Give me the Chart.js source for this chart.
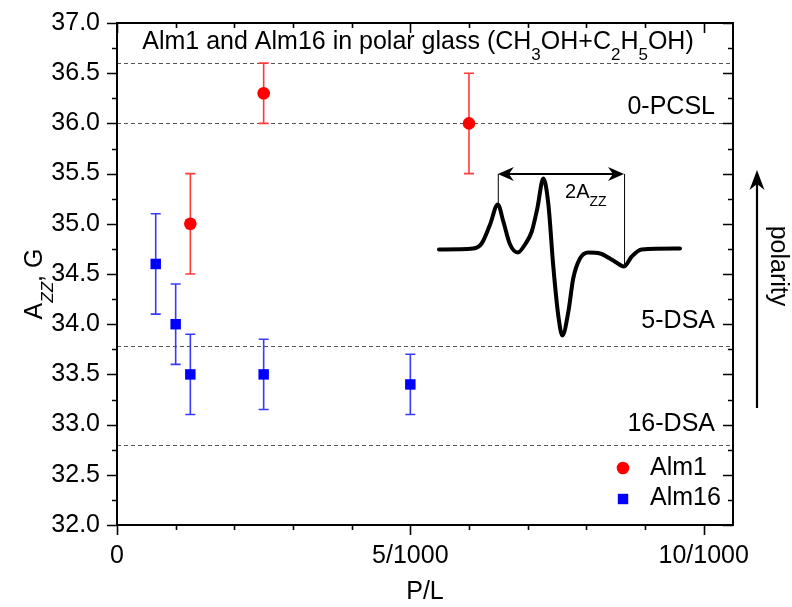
<!DOCTYPE html>
<html>
<head>
<meta charset="utf-8">
<script src="https://cdn.jsdelivr.net/npm/chart.js@4/dist/chart.umd.min.js"></script>
<style>
  html, body { margin: 0; padding: 0; background: #fff; }
  #wrap { width: 792px; height: 607px; }
</style>
</head>
<body>
<div id="wrap"><canvas id="azzChart" width="792" height="607"></canvas></div>
<script>
// Alm1: P/L (x1000), Azz (G), error (G)
const alm1PL = [1.25, 2.5, 6.0];
const alm1Azz = [35.0, 36.3, 36.0];
const alm1Err = [0.5, 0.3, 0.5];

// Alm16
const alm16PL = [0.66, 1.0, 1.25, 2.5, 5.0];
const alm16Azz = [34.6, 34.0, 33.5, 33.5, 33.4];
const alm16Err = [0.5, 0.4, 0.4, 0.35, 0.3];

// reference Azz levels (dashed)
const refLevels = [36.6, 36.0, 33.78, 32.8];
const refNames = ['', '0-PCSL', '5-DSA', '16-DSA'];

const xTickValues = [0, 5, 10];
const xTickLabels = ['0', '5/1000', '10/1000'];
const yTickValues = [32.0, 32.5, 33.0, 33.5, 34.0, 34.5, 35.0, 35.5, 36.0, 36.5, 37.0];

// inset spectrum: field (arb. G) and first-derivative signal
const specField = [0, 14.2, 17.7, 21.2, 24.4, 26.7, 29.5, 32.7, 35.7, 38.5, 40.8, 43.3, 45.4, 47.4, 49.5, 51.2, 53.7, 55.7, 58.5, 62.0, 66.8, 72.3, 76.8, 80.0, 84.1, 100];
const specSignal = [0, 0.01, 0.06, 0.25, 0.45, 0.28, 0.05, -0.03, 0.05, 0.18, 0.41, 0.71, 0.45, -0.16, -0.66, -0.86, -0.62, -0.29, -0.09, -0.03, -0.04, -0.11, -0.17, -0.07, 0, 0.01];
// outer extrema that define 2Azz
const azzMarks = [24.4, 76.8];

const FONT = 'Liberation Sans, Arial, sans-serif';
Chart.defaults.font.family = FONT;
Chart.defaults.color = '#000';

function toPoints(xs, ys) {
    return xs.map((v, i) => ({ x: v, y: ys[i] }));
}

// draws text made of pieces, some of them subscripts
function drawRich(ctx, parts, x, y, size, align) {
    const subSize = Math.round(size * 0.68);
    const fontFor = p => (p.italic ? 'italic ' : '') + (p.sub ? subSize : size) + 'px ' + FONT;
    let total = 0;
    parts.forEach(p => { ctx.font = fontFor(p); total += ctx.measureText(p.t).width; });
    let cx = align === 'center' ? x - total / 2 : x;
    ctx.textAlign = 'left';
    ctx.textBaseline = 'alphabetic';
    parts.forEach(p => {
        ctx.font = fontFor(p);
        ctx.fillText(p.t, cx, y + (p.sub ? size * 0.42 : 0));
        cx += ctx.measureText(p.t).width;
    });
}

function arrowHead(ctx, tx, ty, dx, dy, len, half) {
    // dx, dy: unit direction the arrow points to
    const bx = tx - dx * len, by = ty - dy * len;
    const nx = -dy, ny = dx;
    ctx.beginPath();
    ctx.moveTo(tx, ty);
    ctx.lineTo(bx + nx * half, by + ny * half);
    ctx.lineTo(tx - dx * len * 0.7, ty - dy * len * 0.7);
    ctx.lineTo(bx - nx * half, by - ny * half);
    ctx.closePath();
    ctx.fill();
}

// dashed reference levels and their names
const refLinesPlugin = {
    id: 'refLines',
    beforeDatasetsDraw(chart) {
        const { ctx, chartArea: a, scales: { y } } = chart;
        const lift = [0, 16, 25, 21];
        ctx.save();
        refLevels.forEach((lv, i) => {
            const py = Math.round(y.getPixelForValue(lv)) + 0.5;
            ctx.strokeStyle = '#555';
            ctx.lineWidth = 1;
            ctx.setLineDash([4, 3]);
            ctx.beginPath();
            ctx.moveTo(a.left, py);
            ctx.lineTo(a.right, py);
            ctx.stroke();
            if (refNames[i]) {
                ctx.fillStyle = '#000';
                ctx.font = '25px ' + FONT;
                ctx.textAlign = 'right';
                ctx.textBaseline = 'middle';
                ctx.fillText(refNames[i], a.right - 18, py - lift[i]);
            }
        });
        ctx.restore();
    }
};

// vertical error bars with caps
const errorBarsPlugin = {
    id: 'errorBars',
    beforeDatasetsDraw(chart) {
        const { ctx, scales: { x, y } } = chart;
        ctx.save();
        chart.data.datasets.forEach(ds => {
            if (!ds.errors) return;
            ctx.strokeStyle = ds.errColor;
            ctx.lineWidth = 1.6;
            ds.data.forEach((p, i) => {
                const px = x.getPixelForValue(p.x);
                const top = y.getPixelForValue(p.y + ds.errors[i]);
                const bot = y.getPixelForValue(p.y - ds.errors[i]);
                ctx.beginPath();
                ctx.moveTo(px, top); ctx.lineTo(px, bot);
                ctx.moveTo(px - 5, top); ctx.lineTo(px + 5, top);
                ctx.moveTo(px - 5, bot); ctx.lineTo(px + 5, bot);
                ctx.stroke();
            });
        });
        ctx.restore();
    }
};

// 2Azz arrow over the inset spectrum
const insetPlugin = {
    id: 'insetMarks',
    afterDatasetsDraw(chart) {
        const { ctx, scales: { xs, ys } } = chart;
        const yArrow = ys.getPixelForValue(0.755);
        const xL = xs.getPixelForValue(azzMarks[0]);
        const xR = xs.getPixelForValue(azzMarks[1]);
        const sL = specSignal[specField.indexOf(azzMarks[0])];
        const sR = specSignal[specField.indexOf(azzMarks[1])];
        ctx.save();
        ctx.strokeStyle = '#000';
        ctx.fillStyle = '#000';
        ctx.lineWidth = 1;
        ctx.beginPath();
        ctx.moveTo(xL + 0.5, yArrow); ctx.lineTo(xL + 0.5, ys.getPixelForValue(sL));
        ctx.moveTo(xR + 0.5, yArrow); ctx.lineTo(xR + 0.5, ys.getPixelForValue(sR));
        ctx.stroke();
        ctx.lineWidth = 2.2;
        ctx.beginPath();
        ctx.moveTo(xL + 8, yArrow); ctx.lineTo(xR - 8, yArrow);
        ctx.stroke();
        arrowHead(ctx, xL, yArrow, -1, 0, 16, 7);
        arrowHead(ctx, xR, yArrow, 1, 0, 16, 7);
        drawRich(ctx, [{ t: '2A' }, { t: 'ZZ', sub: true }],
            xs.getPixelForValue(52.3), ys.getPixelForValue(0.52), 20, 'left');
        ctx.restore();
    }
};

// frame, ticks, titles, legend, polarity arrow
const decorPlugin = {
    id: 'decor',
    afterDraw(chart) {
        const { ctx, chartArea: a, scales: { x, y } } = chart;
        ctx.save();
        ctx.strokeStyle = '#000';
        ctx.lineWidth = 2;
        ctx.strokeRect(a.left, a.top, a.right - a.left, a.bottom - a.top);

        ctx.lineWidth = 1.6;
        ctx.beginPath();
        for (let v = 0; v <= x.max + 1e-9; v += 1) {
            const px = Math.round(x.getPixelForValue(v)) + 0.5;
            const len = xTickValues.includes(v) ? 10 : 5;
            ctx.moveTo(px, a.bottom); ctx.lineTo(px, a.bottom + len);
            ctx.moveTo(px, a.top); ctx.lineTo(px, a.top + len);
        }
        for (let v = y.min; v <= y.max + 1e-9; v += 0.25) {
            const py = Math.round(y.getPixelForValue(v)) + 0.5;
            const len = yTickValues.includes(v) ? 10 : 5;
            ctx.moveTo(a.left - len, py); ctx.lineTo(a.left, py);
            ctx.moveTo(a.right - len, py); ctx.lineTo(a.right, py);
        }
        ctx.stroke();

        ctx.fillStyle = '#000';
        // plot title
        drawRich(ctx, [
            { t: 'Alm1 and Alm16 in polar glass (CH' }, { t: '3', sub: true },
            { t: 'OH+C' }, { t: '2', sub: true }, { t: 'H' }, { t: '5', sub: true }, { t: 'OH)' }
        ], 418, 49, 25, 'center');

        // axis titles
        ctx.font = '25px ' + FONT;
        ctx.textAlign = 'center';
        ctx.textBaseline = 'middle';
        ctx.fillText('P/L', (a.left + a.right) / 2, 592);

        ctx.save();
        ctx.translate(42, 284);
        ctx.rotate(-Math.PI / 2);
        drawRich(ctx, [{ t: 'A' }, { t: 'ZZ', sub: true, italic: true }, { t: ', G' }], 0, 0, 25, 'center');
        ctx.restore();

        // legend
        const ds = chart.data.datasets;
        const rows = [468, 498];
        [0, 1].forEach((k, i) => {
            const d = ds[k];
            ctx.fillStyle = d.backgroundColor;
            if (d.pointStyle === 'rect') {
                ctx.fillRect(623 - 5.2, rows[i] + 1 - 5.2, 10.4, 10.4);
            } else {
                ctx.beginPath();
                ctx.arc(623, rows[i], d.pointRadius, 0, Math.PI * 2);
                ctx.fill();
            }
            ctx.fillStyle = '#000';
            ctx.font = '25px ' + FONT;
            ctx.textAlign = 'left';
            ctx.textBaseline = 'middle';
            ctx.fillText(d.label, 650, rows[i]);
        });

        // polarity arrow
        ctx.strokeStyle = '#000';
        ctx.fillStyle = '#000';
        ctx.lineWidth = 2.2;
        ctx.beginPath();
        ctx.moveTo(757, 408);
        ctx.lineTo(757, 184);
        ctx.stroke();
        arrowHead(ctx, 757, 170, 0, -1, 20, 7.5);
        ctx.save();
        ctx.translate(778, 266);
        ctx.rotate(Math.PI / 2);
        ctx.font = '25px ' + FONT;
        ctx.textAlign = 'center';
        ctx.textBaseline = 'middle';
        ctx.fillText('polarity', 0, 0);
        ctx.restore();

        ctx.restore();
    }
};

new Chart(document.getElementById('azzChart'), {
    type: 'scatter',
    data: {
        datasets: [
            {
                label: 'Alm1',
                data: toPoints(alm1PL, alm1Azz),
                errors: alm1Err,
                errColor: '#ff3a3a',
                pointStyle: 'circle',
                pointRadius: 6.3,
                borderWidth: 0,
                backgroundColor: '#ff0000',
                borderColor: '#ff0000'
            },
            {
                label: 'Alm16',
                data: toPoints(alm16PL, alm16Azz),
                errors: alm16Err,
                errColor: '#3a3aff',
                pointStyle: 'rect',
                pointRadius: 7.4,
                borderWidth: 0,
                backgroundColor: '#0000ff',
                borderColor: '#0000ff'
            },
            {
                label: 'spectrum',
                type: 'line',
                data: toPoints(specField, specSignal),
                xAxisID: 'xs',
                yAxisID: 'ys',
                showLine: true,
                borderColor: '#000',
                borderWidth: 4,
                pointRadius: 0,
                cubicInterpolationMode: 'monotone',
                borderJoinStyle: 'round',
                borderCapStyle: 'round',
                fill: false,
                clip: false
            }
        ]
    },
    options: {
        responsive: false,
        animation: false,
        layout: { padding: { top: 23, right: 59, left: 0, bottom: 0 } },
        plugins: { legend: { display: false }, tooltip: { enabled: false } },
        scales: {
            x: {
                type: 'linear',
                min: 0,
                max: 10.5,
                grid: { display: false, drawTicks: true, tickLength: 10 },
                border: { display: false },
                afterBuildTicks: s => { s.ticks = xTickValues.map(v => ({ value: v })); },
                afterFit: s => { s.height = 82; },
                ticks: {
                    autoSkip: false,
                    maxRotation: 0,
                    padding: 6,
                    font: { size: 25 },
                    color: '#000',
                    callback: v => xTickLabels[xTickValues.indexOf(v)]
                }
            },
            y: {
                type: 'linear',
                min: 32,
                max: 37,
                grid: { display: false, drawTicks: true, tickLength: 10 },
                border: { display: false },
                afterBuildTicks: s => { s.ticks = yTickValues.map(v => ({ value: v })); },
                afterFit: s => { s.width = 117; },
                ticks: {
                    padding: 7,
                    font: { size: 25 },
                    color: '#000',
                    callback: v => v.toFixed(1)
                }
            },
            xs: { type: 'linear', display: false, min: -133.6, max: 122.0 },
            ys: { type: 'linear', display: false, min: -2.755, max: 2.265 }
        }
    },
    plugins: [refLinesPlugin, errorBarsPlugin, insetPlugin, decorPlugin]
});
</script>
</body>
</html>
